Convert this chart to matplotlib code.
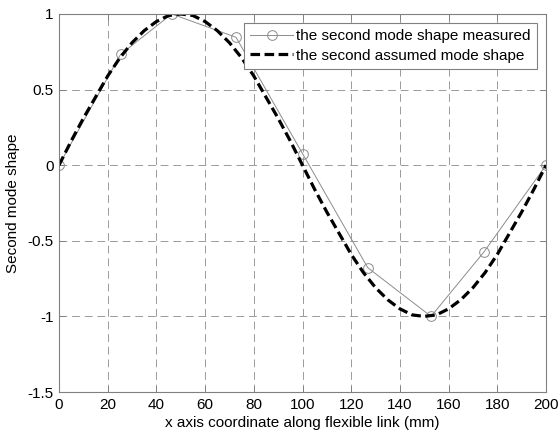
import matplotlib
matplotlib.use("Agg")
import matplotlib.pyplot as plt

# measured second mode shape
x_meas = [0, 25.3, 46.3, 72.7, 100.1, 126.8, 152.8, 174.5, 200]
y_meas = [0.0, 0.733, 1.0, 0.846, 0.074, -0.678, -1.0, -0.574, 0.0]

# assumed second mode shape, sampled every 5 mm
x_assumed = [0, 5, 10, 15, 20, 25, 30, 35, 40, 45, 50, 55, 60, 65, 70, 75, 80, 85, 90, 95, 100,
             105, 110, 115, 120, 125, 130, 135, 140, 145, 150, 155, 160, 165, 170, 175, 180, 185,
             190, 195, 200]
y_assumed = [0.0, 0.16, 0.31, 0.45, 0.59, 0.71, 0.81, 0.89, 0.95, 0.99, 1.0, 0.99, 0.95, 0.89,
             0.81, 0.71, 0.59, 0.45, 0.31, 0.16, 0.0, -0.16, -0.31, -0.45, -0.59, -0.71, -0.81,
             -0.89, -0.95, -0.99, -1.0, -0.99, -0.95, -0.89, -0.81, -0.71, -0.59, -0.45, -0.31,
             -0.16, 0.0]

x_ticks = [0, 20, 40, 60, 80, 100, 120, 140, 160, 180, 200]
y_ticks = [-1.5, -1, -0.5, 0, 0.5, 1]
y_ticklabels = ["-1.5", "-1", "-0.5", "0", "0.5", "1"]

plt.rcParams["font.family"] = ["Liberation Sans", "DejaVu Sans"]

fig = plt.figure(figsize=(5.58, 4.36), dpi=100)
fig.patch.set_facecolor("white")
ax = fig.add_axes([59 / 558, 1 - 392 / 436, (546 - 59) / 558, (392 - 14) / 436])

ax.plot(x_meas, y_meas, color="#8c8c8c", linewidth=0.7, marker="o", markersize=7,
        markerfacecolor="none", markeredgecolor="#8c8c8c", markeredgewidth=0.7,
        label="the second mode shape measured")
ax.plot(x_assumed, y_assumed, color="black", linewidth=2.3, linestyle=(0, (3, 1.4)),
        label="the second assumed mode shape")

ax.set_xlim(0, 200)
ax.set_ylim(-1.5, 1)
ax.set_xticks(x_ticks)
ax.set_yticks(y_ticks)
ax.set_yticklabels(y_ticklabels)

ax.grid(True, color="#9a9a9a", linestyle=(0, (8, 5)), linewidth=0.7)
ax.tick_params(direction="in", top=True, right=True, length=4, width=0.7,
               color="#808080", labelsize=11, labelcolor="black", pad=4)
for s in ax.spines.values():
    s.set_color("#808080")
    s.set_linewidth(0.8)

ax.set_xlabel("x axis coordinate along flexible link (mm)", fontsize=11, labelpad=3)
ax.set_ylabel("Second mode shape", fontsize=11, labelpad=5)

leg = ax.legend(loc="upper right", fontsize=11, frameon=True, fancybox=False,
                edgecolor="#808080", framealpha=1, borderpad=0.4, handlelength=2.8,
                handletextpad=0.2, labelspacing=0.35, borderaxespad=0.6)
leg.get_frame().set_linewidth(0.8)

fig.savefig("out.png", dpi=100, facecolor="white")
